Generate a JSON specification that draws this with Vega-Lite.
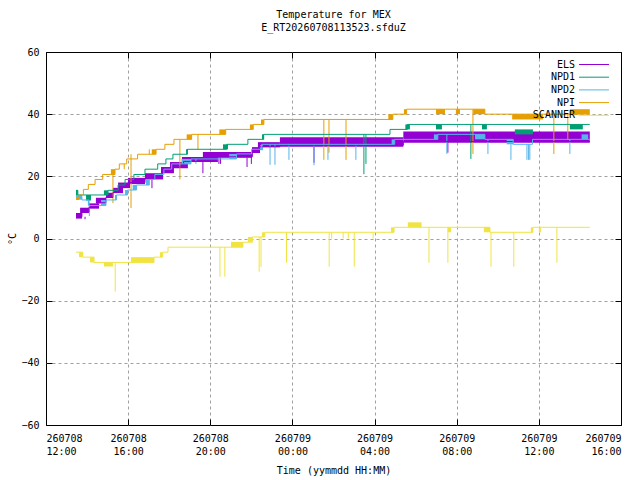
{
  "$schema": "https://vega.github.io/schema/vega-lite/v6.json",
  "width": 575,
  "height": 373,
  "autosize": {"type": "none"},
  "padding": {"left": 46, "top": 52, "right": 19, "bottom": 55},
  "background": "white",
  "title": {
    "text": ["Temperature for MEX", "E_RT20260708113523.sfduZ"],
    "anchor": "middle",
    "offset": 14,
    "fontSize": 10,
    "fontWeight": "normal",
    "font": "DejaVu Sans Mono",
    "lineHeight": 13,
    "color": "black"
  },
  "datasets": {
    "lines": [
      {"s": "ELS", "t": 13.46, "v": 7}, {"s": "ELS", "t": 13.75, "v": 8.5}, {"s": "ELS", "t": 14.09, "v": 10},
      {"s": "ELS", "t": 14.5, "v": 11.5}, {"s": "ELS", "t": 14.92, "v": 13.2}, {"s": "ELS", "t": 15.26, "v": 14.8},
      {"s": "ELS", "t": 15.6, "v": 16.5}, {"s": "ELS", "t": 16.0, "v": 18}, {"s": "ELS", "t": 16.82, "v": 19.5},
      {"s": "ELS", "t": 17.65, "v": 21.3}, {"s": "ELS", "t": 18.1, "v": 23}, {"s": "ELS", "t": 18.7, "v": 24.8},
      {"s": "ELS", "t": 20.0, "v": 26.3}, {"s": "ELS", "t": 22.05, "v": 27.8}, {"s": "ELS", "t": 22.35, "v": 29.5},
      {"s": "ELS", "t": 23.39, "v": 30}, {"s": "ELS", "t": 29.4, "v": 31.2}, {"s": "ELS", "t": 38.48, "v": 31.2},

      {"s": "NPD1", "t": 13.46, "v": 15.5}, {"s": "NPD1", "t": 13.55, "v": 14}, {"s": "NPD1", "t": 14.82, "v": 14},
      {"s": "NPD1", "t": 15.02, "v": 15.5}, {"s": "NPD1", "t": 15.51, "v": 17.2}, {"s": "NPD1", "t": 15.85, "v": 19},
      {"s": "NPD1", "t": 16.28, "v": 20.6}, {"s": "NPD1", "t": 16.82, "v": 22.3}, {"s": "NPD1", "t": 17.44, "v": 24},
      {"s": "NPD1", "t": 17.84, "v": 25.6}, {"s": "NPD1", "t": 18.18, "v": 27.1}, {"s": "NPD1", "t": 18.88, "v": 28.7},
      {"s": "NPD1", "t": 20.8, "v": 30.3}, {"s": "NPD1", "t": 21.83, "v": 31.9}, {"s": "NPD1", "t": 22.6, "v": 33.5},
      {"s": "NPD1", "t": 28.75, "v": 35.1}, {"s": "NPD1", "t": 29.6, "v": 36.7}, {"s": "NPD1", "t": 38.48, "v": 36.7},

      {"s": "NPD2", "t": 13.46, "v": 13.5}, {"s": "NPD2", "t": 13.75, "v": 12.4}, {"s": "NPD2", "t": 14.09, "v": 10.6},
      {"s": "NPD2", "t": 14.92, "v": 12.4}, {"s": "NPD2", "t": 15.43, "v": 14}, {"s": "NPD2", "t": 15.97, "v": 15.6},
      {"s": "NPD2", "t": 16.41, "v": 17.2}, {"s": "NPD2", "t": 17.03, "v": 19}, {"s": "NPD2", "t": 17.3, "v": 20.6},
      {"s": "NPD2", "t": 17.74, "v": 22.3}, {"s": "NPD2", "t": 18.12, "v": 24}, {"s": "NPD2", "t": 19.06, "v": 25.6},
      {"s": "NPD2", "t": 21.28, "v": 27.2}, {"s": "NPD2", "t": 22.01, "v": 28.7}, {"s": "NPD2", "t": 22.5, "v": 30.3},
      {"s": "NPD2", "t": 28.98, "v": 31.9}, {"s": "NPD2", "t": 31.08, "v": 33.5}, {"s": "NPD2", "t": 33.37, "v": 31.9},
      {"s": "NPD2", "t": 34.75, "v": 30.3}, {"s": "NPD2", "t": 35.69, "v": 31.9}, {"s": "NPD2", "t": 38.48, "v": 31.9},

      {"s": "NPI", "t": 13.46, "v": 13}, {"s": "NPI", "t": 13.61, "v": 14}, {"s": "NPI", "t": 13.82, "v": 15.8},
      {"s": "NPI", "t": 14.06, "v": 17.4}, {"s": "NPI", "t": 14.39, "v": 19}, {"s": "NPI", "t": 14.76, "v": 20.6},
      {"s": "NPI", "t": 15.36, "v": 22.3}, {"s": "NPI", "t": 15.57, "v": 24}, {"s": "NPI", "t": 15.93, "v": 25.6},
      {"s": "NPI", "t": 16.46, "v": 27.1}, {"s": "NPI", "t": 17.36, "v": 28.7}, {"s": "NPI", "t": 17.79, "v": 30.3},
      {"s": "NPI", "t": 18.23, "v": 31.9}, {"s": "NPI", "t": 19.09, "v": 33.5}, {"s": "NPI", "t": 20.75, "v": 35.1},
      {"s": "NPI", "t": 22.09, "v": 36.7}, {"s": "NPI", "t": 22.61, "v": 38.3}, {"s": "NPI", "t": 28.89, "v": 40},
      {"s": "NPI", "t": 29.56, "v": 41.6}, {"s": "NPI", "t": 33.37, "v": 40}, {"s": "NPI", "t": 38.48, "v": 40},

      {"s": "SCANNER", "t": 13.46, "v": -4.4}, {"s": "SCANNER", "t": 13.79, "v": -6}, {"s": "SCANNER", "t": 14.34, "v": -7.7},
      {"s": "SCANNER", "t": 17.26, "v": -6}, {"s": "SCANNER", "t": 17.68, "v": -4.4}, {"s": "SCANNER", "t": 17.94, "v": -2.8},
      {"s": "SCANNER", "t": 21.59, "v": -1.2}, {"s": "SCANNER", "t": 22.05, "v": 0.5}, {"s": "SCANNER", "t": 22.66, "v": 2},
      {"s": "SCANNER", "t": 28.95, "v": 3.6}, {"s": "SCANNER", "t": 33.62, "v": 2}, {"s": "SCANNER", "t": 35.71, "v": 3.6},
      {"s": "SCANNER", "t": 38.48, "v": 3.6}
    ],
    "bands": [
      {"s": "ELS", "t": 13.46, "t2": 13.75, "lo": 6.4, "hi": 8.2}, {"s": "ELS", "t": 13.66, "t2": 14.09, "lo": 8.2, "hi": 9.9},
      {"s": "ELS", "t": 14.09, "t2": 14.58, "lo": 9.6, "hi": 11.3}, {"s": "ELS", "t": 14.43, "t2": 14.92, "lo": 11.3, "hi": 13.1},
      {"s": "ELS", "t": 14.92, "t2": 15.26, "lo": 13, "hi": 14.7}, {"s": "ELS", "t": 15.26, "t2": 15.75, "lo": 14.6, "hi": 16.3},
      {"s": "ELS", "t": 15.51, "t2": 16.09, "lo": 16.2, "hi": 18}, {"s": "ELS", "t": 15.99, "t2": 16.82, "lo": 17.5, "hi": 19.5},
      {"s": "ELS", "t": 16.82, "t2": 17.7, "lo": 19, "hi": 21}, {"s": "ELS", "t": 17.6, "t2": 18.23, "lo": 21, "hi": 23},
      {"s": "ELS", "t": 18.04, "t2": 18.91, "lo": 22.6, "hi": 24.6}, {"s": "ELS", "t": 18.62, "t2": 20.37, "lo": 24.6, "hi": 26.2},
      {"s": "ELS", "t": 19.64, "t2": 22.03, "lo": 26, "hi": 27.8}, {"s": "ELS", "t": 22.03, "t2": 22.42, "lo": 27.5, "hi": 29.4},
      {"s": "ELS", "t": 22.32, "t2": 23.39, "lo": 29.4, "hi": 31}, {"s": "ELS", "t": 23.39, "t2": 29.4, "lo": 29.5, "hi": 32.6},
      {"s": "ELS", "t": 29.4, "t2": 38.48, "lo": 30.8, "hi": 34.4},

      {"s": "NPD1", "t": 13.46, "t2": 13.55, "lo": 14, "hi": 15.6}, {"s": "NPD1", "t": 13.95, "t2": 14.19, "lo": 12.2, "hi": 14},
      {"s": "NPD1", "t": 14.82, "t2": 15.02, "lo": 14, "hi": 15.5}, {"s": "NPD1", "t": 18.82, "t2": 18.91, "lo": 27.1, "hi": 28.7},
      {"s": "NPD1", "t": 20.62, "t2": 20.86, "lo": 28.7, "hi": 30.3}, {"s": "NPD1", "t": 22.52, "t2": 22.61, "lo": 31.9, "hi": 33.5},
      {"s": "NPD1", "t": 29.5, "t2": 29.72, "lo": 35.1, "hi": 36.7}, {"s": "NPD1", "t": 30.99, "t2": 31.28, "lo": 35.1, "hi": 36.7},
      {"s": "NPD1", "t": 33.23, "t2": 33.47, "lo": 35.1, "hi": 36.7}, {"s": "NPD1", "t": 34.83, "t2": 35.71, "lo": 33.5, "hi": 35.1},
      {"s": "NPD1", "t": 37.51, "t2": 38.14, "lo": 35.1, "hi": 36.7},

      {"s": "NPD2", "t": 13.46, "t2": 13.75, "lo": 12.5, "hi": 14}, {"s": "NPD2", "t": 14.04, "t2": 14.11, "lo": 10.6, "hi": 12.4},
      {"s": "NPD2", "t": 14.68, "t2": 14.92, "lo": 10.6, "hi": 12.4}, {"s": "NPD2", "t": 15.36, "t2": 15.43, "lo": 12.4, "hi": 14},
      {"s": "NPD2", "t": 15.85, "t2": 15.97, "lo": 14, "hi": 15.6}, {"s": "NPD2", "t": 16.22, "t2": 16.41, "lo": 15.6, "hi": 17.2},
      {"s": "NPD2", "t": 16.87, "t2": 17.03, "lo": 17.2, "hi": 19}, {"s": "NPD2", "t": 18.6, "t2": 19.06, "lo": 24, "hi": 25.6},
      {"s": "NPD2", "t": 20.92, "t2": 21.28, "lo": 25.6, "hi": 27.2}, {"s": "NPD2", "t": 22.42, "t2": 22.57, "lo": 28.4, "hi": 30},
      {"s": "NPD2", "t": 28.83, "t2": 28.98, "lo": 30.3, "hi": 31.9}, {"s": "NPD2", "t": 30.89, "t2": 31.08, "lo": 31.9, "hi": 33.5},
      {"s": "NPD2", "t": 32.89, "t2": 33.37, "lo": 31.9, "hi": 33.5}, {"s": "NPD2", "t": 34.43, "t2": 34.75, "lo": 30.3, "hi": 31.9},
      {"s": "NPD2", "t": 38.08, "t2": 38.4, "lo": 31.9, "hi": 33.5},

      {"s": "NPI", "t": 13.46, "t2": 13.61, "lo": 12.4, "hi": 14}, {"s": "NPI", "t": 15.16, "t2": 15.36, "lo": 20.6, "hi": 22.3},
      {"s": "NPI", "t": 17.15, "t2": 17.36, "lo": 27.1, "hi": 28.7}, {"s": "NPI", "t": 18.85, "t2": 19.09, "lo": 31.9, "hi": 33.5},
      {"s": "NPI", "t": 20.44, "t2": 20.75, "lo": 33.5, "hi": 35.1}, {"s": "NPI", "t": 21.93, "t2": 22.09, "lo": 35.1, "hi": 36.7},
      {"s": "NPI", "t": 22.47, "t2": 22.61, "lo": 36.7, "hi": 38.3}, {"s": "NPI", "t": 28.67, "t2": 28.89, "lo": 38.3, "hi": 40},
      {"s": "NPI", "t": 29.43, "t2": 29.56, "lo": 40, "hi": 41.6}, {"s": "NPI", "t": 30.99, "t2": 31.43, "lo": 40, "hi": 41.6},
      {"s": "NPI", "t": 31.96, "t2": 32.16, "lo": 40, "hi": 41.6}, {"s": "NPI", "t": 32.8, "t2": 33.37, "lo": 40, "hi": 41.6},
      {"s": "NPI", "t": 34.7, "t2": 36.2, "lo": 38.3, "hi": 40}, {"s": "NPI", "t": 37.51, "t2": 38.48, "lo": 40, "hi": 41.6},

      {"s": "SCANNER", "t": 13.61, "t2": 13.79, "lo": -6, "hi": -4.4}, {"s": "SCANNER", "t": 14.14, "t2": 14.34, "lo": -7.7, "hi": -6},
      {"s": "SCANNER", "t": 14.82, "t2": 15.26, "lo": -9, "hi": -7.7}, {"s": "SCANNER", "t": 16.14, "t2": 17.26, "lo": -7.7, "hi": -6},
      {"s": "SCANNER", "t": 17.55, "t2": 17.68, "lo": -6, "hi": -4.4}, {"s": "SCANNER", "t": 21.01, "t2": 21.59, "lo": -2.8, "hi": -1.1},
      {"s": "SCANNER", "t": 21.83, "t2": 22.05, "lo": -1.1, "hi": 0.5}, {"s": "SCANNER", "t": 22.52, "t2": 22.66, "lo": 0.5, "hi": 2},
      {"s": "SCANNER", "t": 28.8, "t2": 28.95, "lo": 2, "hi": 3.6}, {"s": "SCANNER", "t": 29.62, "t2": 30.29, "lo": 3.6, "hi": 5.2},
      {"s": "SCANNER", "t": 31.57, "t2": 31.72, "lo": 2, "hi": 3.6}, {"s": "SCANNER", "t": 33.32, "t2": 33.62, "lo": 2, "hi": 3.6},
      {"s": "SCANNER", "t": 35.61, "t2": 35.71, "lo": 2, "hi": 3.6}, {"s": "SCANNER", "t": 36.0, "t2": 36.1, "lo": 2, "hi": 3.6}
    ],
    "spikes": [
      {"s": "ELS", "t": 13.9, "v": 7, "v2": 6.2}, {"s": "ELS", "t": 17.16, "v": 19.5, "v2": 16.2},
      {"s": "ELS", "t": 19.64, "v": 24.6, "v2": 21}, {"s": "ELS", "t": 20.42, "v": 26, "v2": 24},
      {"s": "ELS", "t": 20.5, "v": 26, "v2": 24}, {"s": "ELS", "t": 21.79, "v": 26, "v2": 23},
      {"s": "ELS", "t": 22.0, "v": 26.5, "v2": 24}, {"s": "ELS", "t": 25.05, "v": 30, "v2": 24.4},
      {"s": "ELS", "t": 31.57, "v": 31, "v2": 27.6},

      {"s": "NPD1", "t": 27.48, "v": 33.5, "v2": 20.7}, {"s": "NPD1", "t": 27.58, "v": 33.5, "v2": 24},
      {"s": "NPD1", "t": 32.69, "v": 36.7, "v2": 25.6},

      {"s": "NPD2", "t": 14.11, "v": 10.6, "v2": 7.2}, {"s": "NPD2", "t": 19.3, "v": 25.6, "v2": 24},
      {"s": "NPD2", "t": 22.91, "v": 30.3, "v2": 23.7}, {"s": "NPD2", "t": 23.15, "v": 30.3, "v2": 23.7},
      {"s": "NPD2", "t": 23.83, "v": 30.3, "v2": 25.3}, {"s": "NPD2", "t": 25.05, "v": 30.3, "v2": 23.6},
      {"s": "NPD2", "t": 25.73, "v": 30.3, "v2": 25.3}, {"s": "NPD2", "t": 27.09, "v": 30.3, "v2": 25.3},
      {"s": "NPD2", "t": 31.52, "v": 33.5, "v2": 27.2}, {"s": "NPD2", "t": 33.52, "v": 31.9, "v2": 27.2},
      {"s": "NPD2", "t": 34.64, "v": 30.3, "v2": 25.3}, {"s": "NPD2", "t": 35.42, "v": 30.3, "v2": 25.3},
      {"s": "NPD2", "t": 35.5, "v": 30.3, "v2": 25.3}, {"s": "NPD2", "t": 35.56, "v": 30.3, "v2": 25.3},
      {"s": "NPD2", "t": 37.51, "v": 31.9, "v2": 27.2},

      {"s": "NPI", "t": 15.26, "v": 20.6, "v2": 11.4}, {"s": "NPI", "t": 16.14, "v": 27.1, "v2": 9.8},
      {"s": "NPI", "t": 15.81, "v": 24, "v2": 22.3}, {"s": "NPI", "t": 17.03, "v": 27.1, "v2": 28.7},
      {"s": "NPI", "t": 18.52, "v": 31.9, "v2": 19}, {"s": "NPI", "t": 19.4, "v": 33.5, "v2": 28.7},
      {"s": "NPI", "t": 25.53, "v": 38.3, "v2": 25.3}, {"s": "NPI", "t": 25.78, "v": 38.3, "v2": 27.6},
      {"s": "NPI", "t": 26.61, "v": 38.3, "v2": 25.3}, {"s": "NPI", "t": 32.79, "v": 41.6, "v2": 27.2},
      {"s": "NPI", "t": 36.73, "v": 40, "v2": 27.2}, {"s": "NPI", "t": 37.41, "v": 40, "v2": 31.7},

      {"s": "SCANNER", "t": 15.37, "v": -7.7, "v2": -17.1}, {"s": "SCANNER", "t": 20.47, "v": -2.8, "v2": -12.3},
      {"s": "SCANNER", "t": 20.71, "v": -2.8, "v2": -12.3}, {"s": "SCANNER", "t": 22.38, "v": 0.5, "v2": -10.7},
      {"s": "SCANNER", "t": 22.47, "v": 0.5, "v2": -9.1}, {"s": "SCANNER", "t": 23.71, "v": 2, "v2": -7.8},
      {"s": "SCANNER", "t": 25.79, "v": 2, "v2": -9.1}, {"s": "SCANNER", "t": 25.91, "v": 2, "v2": 0},
      {"s": "SCANNER", "t": 26.47, "v": 2, "v2": 0}, {"s": "SCANNER", "t": 26.72, "v": 2, "v2": 0},
      {"s": "SCANNER", "t": 27.01, "v": 2, "v2": -9.1}, {"s": "SCANNER", "t": 27.93, "v": 2, "v2": 0},
      {"s": "SCANNER", "t": 30.65, "v": 3.6, "v2": -7.8}, {"s": "SCANNER", "t": 31.57, "v": 3.6, "v2": -7.8},
      {"s": "SCANNER", "t": 33.67, "v": 2, "v2": -9.1}, {"s": "SCANNER", "t": 34.78, "v": 2, "v2": -9.1},
      {"s": "SCANNER", "t": 36.88, "v": 3.6, "v2": -7.8}
    ]
  },
  "resolve": {"axis": {"x": "independent", "y": "independent"}},
  "layer": [
    {
      "data": {"name": "bands"},
      "mark": {"type": "rect"},
      "encoding": {
        "x": {
          "field": "t",
          "type": "quantitative",
          "scale": {"domain": [12, 40], "nice": false, "zero": false},
          "axis": {
            "values": [12, 16, 20, 24, 28, 32, 36, 40],
            "labelExpr": "[datum.value < 24 ? '260708' : '260709', (datum.value % 24 < 10 ? '0' : '') + (datum.value % 24) + ':00']",
            "title": "Time (yymmdd HH:MM)",
            "titleY": 45,
            "titleBaseline": "middle",
            "labelBaseline": "top",
            "labelLineHeight": 13,
            "labelPadding": 14,
            "ticks": true,
            "tickSize": -6,
            "tickColor": "black",
            "domain": false,
            "grid": true,
            "gridOpacity": {"condition": {"test": "datum.value == 12 || datum.value == 40", "value": 0}, "value": 1}
          }
        },
        "x2": {"field": "t2"},
        "y": {
          "field": "lo",
          "type": "quantitative",
          "scale": {"domain": [-60, 60], "nice": false},
          "axis": {
            "values": [-60, -40, -20, 0, 20, 40, 60],
            "title": "°C",
            "titleX": -34,
            "titleY": 186.5,
            "titleBaseline": "middle",
            "labelPadding": 13,
            "ticks": true,
            "tickSize": -6,
            "tickColor": "black",
            "domain": false,
            "grid": true,
            "gridOpacity": {"condition": {"test": "abs(datum.value) == 60", "value": 0}, "value": 1}
          }
        },
        "y2": {"field": "hi"},
        "color": {
          "field": "s",
          "type": "nominal",
          "scale": {
            "domain": ["ELS", "NPD1", "NPD2", "NPI", "SCANNER"],
            "range": ["#9400d3", "#009e73", "#56b4e9", "#e69f00", "#f0e442"]
          }
        }
      }
    },
    {
      "data": {"name": "spikes"},
      "mark": {"type": "rule", "strokeWidth": 1},
      "encoding": {
        "x": {
          "field": "t",
          "type": "quantitative",
          "axis": {
            "orient": "top",
            "values": [12, 16, 20, 24, 28, 32, 36, 40],
            "labels": false,
            "title": null,
            "grid": false,
            "domain": false,
            "ticks": true,
            "tickSize": -6,
            "tickColor": "black"
          }
        },
        "y": {
          "field": "v",
          "type": "quantitative",
          "axis": {
            "orient": "right",
            "values": [-60, -40, -20, 0, 20, 40, 60],
            "labels": false,
            "title": null,
            "grid": false,
            "domain": false,
            "ticks": true,
            "tickSize": -6,
            "tickColor": "black"
          }
        },
        "y2": {"field": "v2"},
        "color": {"field": "s", "type": "nominal"}
      }
    },
    {
      "data": {"name": "lines"},
      "mark": {"type": "line", "interpolate": "step-after", "strokeWidth": 1},
      "encoding": {
        "x": {"field": "t", "type": "quantitative", "axis": null},
        "y": {"field": "v", "type": "quantitative", "axis": null},
        "color": {"field": "s", "type": "nominal"}
      }
    }
  ],
  "config": {
    "font": "DejaVu Sans Mono",
    "view": {"stroke": "black", "strokeWidth": 1},
    "axis": {
      "labelFont": "DejaVu Sans Mono",
      "labelFontSize": 10,
      "labelColor": "black",
      "titleFont": "DejaVu Sans Mono",
      "titleFontSize": 10,
      "titleFontWeight": "normal",
      "titleColor": "black",
      "gridColor": "#a0a0a0",
      "gridDash": [3, 3],
      "gridWidth": 1
    },
    "legend": {
      "orient": "none",
      "legendX": 541.5,
      "legendY": 6,
      "title": null,
      "padding": 0,
      "symbolType": "M-2.5,0H2.5",
      "symbolSize": 144,
      "symbolStrokeWidth": 1,
      "labelAlign": "right",
      "labelOffset": -25.5,
      "labelFont": "DejaVu Sans Mono",
      "labelFontSize": 10,
      "labelColor": "black",
      "rowPadding": 0.7
    }
  }
}
